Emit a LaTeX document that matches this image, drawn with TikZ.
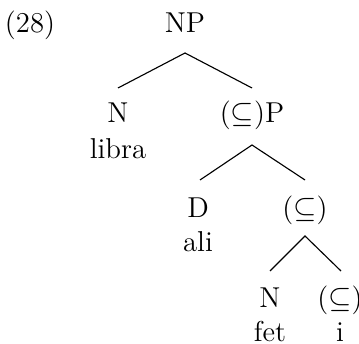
\documentclass[tikz,border=0pt]{standalone}
\usepackage{amssymb}
\begin{document}
\begin{tikzpicture}[x=0.4pt,y=-0.4pt,
  lab/.style={inner sep=0pt,anchor=base,font=\fontsize{11.5}{13}\selectfont},
  edge/.style={draw,line width=0.45pt}]
\useasboundingbox (0,0) rectangle (359,344);
\node[lab] (ex) at (30,33) {(28)};
\node[lab] (np) at (185,33) {NP};
\node[lab] (n1) at (118,123) {N};
\node[lab] (w1) at (118,159) {libra};
\node[lab] (sp) at (252,123) {($\subseteq$)P};
\node[lab] (d) at (198,218) {D};
\node[lab] (w2) at (198,252) {ali};
\node[lab] (s1) at (305,218) {($\subseteq$)};
\node[lab] (n2) at (270,308) {N};
\node[lab] (w3) at (270,342) {fet};
\node[lab] (s2) at (340,308) {($\subseteq$)};
\node[lab] (w4) at (340,342) {i};
\coordinate (np-b) at (185,53);
\coordinate (n1-t) at (118,88);
\coordinate (sp-t) at (252,88);
\coordinate (sp-b) at (252,145);
\coordinate (d-t) at (200,180);
\coordinate (s1-t) at (305,180);
\coordinate (s1-b) at (305,236);
\coordinate (n2-t) at (270,271);
\coordinate (s2-t) at (341,271);
\draw[edge] (n1-t) -- (np-b) -- (sp-t);
\draw[edge] (d-t) -- (sp-b) -- (s1-t);
\draw[edge] (n2-t) -- (s1-b) -- (s2-t);
\end{tikzpicture}
\end{document}
